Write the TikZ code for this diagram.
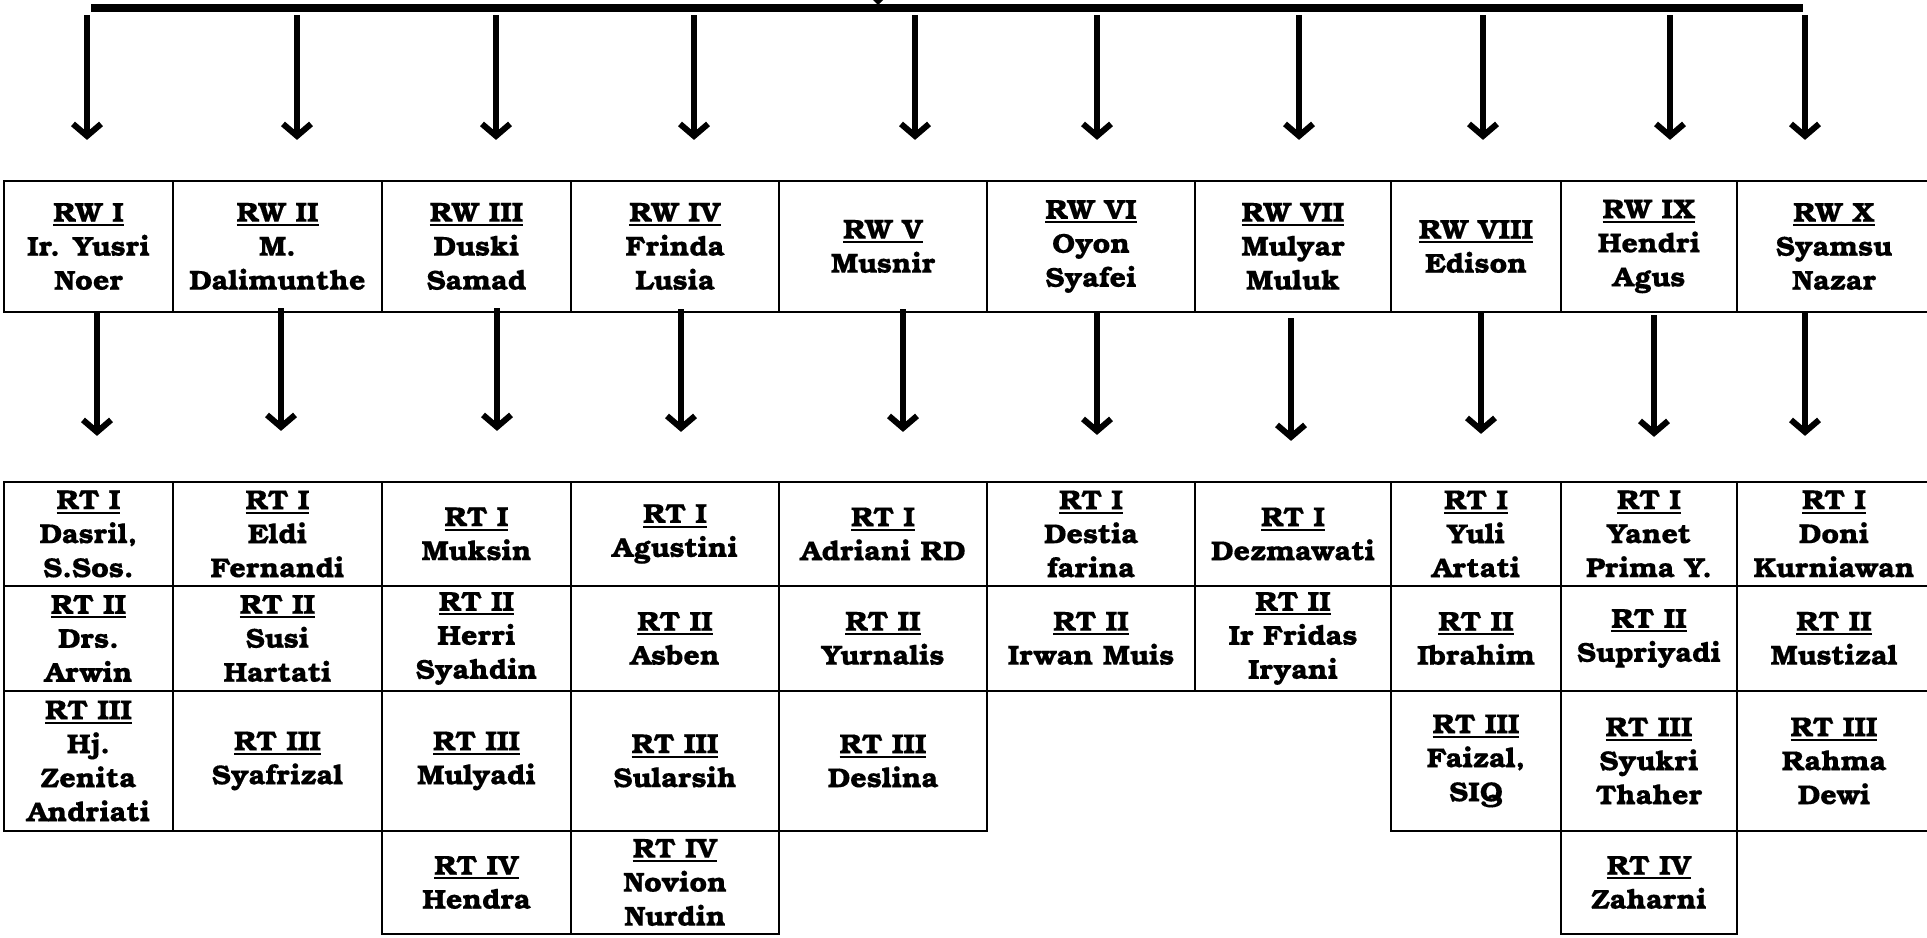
\documentclass[tikz,border=0pt]{standalone}
\usepackage{fontspec}
\setmainfont{TeX Gyre Bonum}[BoldFeatures={FakeStretch=1.05,FakeBold=0.3}]
\usetikzlibrary{arrows.meta}
\newcommand\myul[1]{\setbox0\hbox{#1}\rlap{\rule[-2.3pt]{\wd0}{1pt}}\box0}
\tikzset{
  cellbox/.style={draw, line width=1.1pt, inner sep=0pt, align=center,
    font=\fontsize{13.7pt}{17pt}\selectfont\bfseries},
  arr/.style={line width=3pt, -{Straight Barb[length=6pt,width=14pt]}},
}
\newcommand\cell[6]{\node[cellbox, minimum width={(#3-#2)*0.5pt}, minimum height={(#5-#4)*0.5pt}] (#1) at ({(#2+#3)/2},{(#4+#5)/2}) {#6};}
\begin{document}
\begin{tikzpicture}[x=0.5pt,y=-0.5pt]
\useasboundingbox (0,0) rectangle (1927,937);
% top bar
\coordinate (barL) at (91,8);
\coordinate (barR) at (1803,8);
\draw[line width=4pt] (barL) -- (barR);
\fill (873,0) -- (883,0) -- (878,5) -- cycle;
% RW row
\cell{rw1}{4}{173}{181}{312}{\myul{RW I}\\Ir. Yusri\\Noer}
\cell{rw2}{173}{382}{181}{312}{\myul{RW II}\\M.\\Dalimunthe}
\cell{rw3}{382}{571}{181}{312}{\myul{RW III}\\Duski\\Samad}
\cell{rw4}{571}{779}{181}{312}{\myul{RW IV}\\Frinda\\Lusia}
\cell{rw5}{779}{987}{181}{312}{\myul{RW V}\\Musnir}
\cell{rw6}{987}{1195}{181}{312}{\myul{RW VI}\\Oyon\\Syafei}
\cell{rw7}{1195}{1391}{181}{312}{\myul{RW VII}\\Mulyar\\Muluk}
\cell{rw8}{1391}{1561}{181}{312}{\myul{RW VIII}\\Edison}
\cell{rw9}{1561}{1737}{181}{312}{\myul{RW IX}\\Hendri\\Agus}
\cell{rw10}{1737}{1931}{181}{312}{\myul{RW X}\\Syamsu\\Nazar}
% RT row 1
\cell{rt1-1}{4}{173}{482}{586}{\myul{RT I}\\Dasril,\\S.Sos.}
\cell{rt1-2}{173}{382}{482}{586}{\myul{RT I}\\Eldi\\Fernandi}
\cell{rt1-3}{382}{571}{482}{586}{\myul{RT I}\\Muksin}
\cell{rt1-4}{571}{779}{482}{586}{\myul{RT I}\\Agustini}
\cell{rt1-5}{779}{987}{482}{586}{\myul{RT I}\\Adriani RD}
\cell{rt1-6}{987}{1195}{482}{586}{\myul{RT I}\\Destia\\farina}
\cell{rt1-7}{1195}{1391}{482}{586}{\myul{RT I}\\Dezmawati}
\cell{rt1-8}{1391}{1561}{482}{586}{\myul{RT I}\\Yuli\\Artati}
\cell{rt1-9}{1561}{1737}{482}{586}{\myul{RT I}\\Yanet\\Prima Y.}
\cell{rt1-10}{1737}{1931}{482}{586}{\myul{RT I}\\Doni\\Kurniawan}
% RT row 2
\cell{rt2-1}{4}{173}{586}{691}{\myul{RT II}\\Drs.\\Arwin}
\cell{rt2-2}{173}{382}{586}{691}{\myul{RT II}\\Susi\\Hartati}
\cell{rt2-3}{382}{571}{586}{691}{\myul{RT II}\\Herri\\Syahdin}
\cell{rt2-4}{571}{779}{586}{691}{\myul{RT II}\\Asben}
\cell{rt2-5}{779}{987}{586}{691}{\myul{RT II}\\Yurnalis}
\cell{rt2-6}{987}{1195}{586}{691}{\myul{RT II}\\Irwan Muis}
\cell{rt2-7}{1195}{1391}{586}{691}{\myul{RT II}\\Ir Fridas\\Iryani}
\cell{rt2-8}{1391}{1561}{586}{691}{\myul{RT II}\\Ibrahim}
\cell{rt2-9}{1561}{1737}{586}{691}{\myul{RT II}\\Supriyadi}
\cell{rt2-10}{1737}{1931}{586}{691}{\myul{RT II}\\Mustizal}
% RT row 3
\cell{rt3-1}{4}{173}{691}{831}{\myul{RT III}\\Hj.\\Zenita\\Andriati}
\cell{rt3-2}{173}{382}{691}{831}{\myul{RT III}\\Syafrizal}
\cell{rt3-3}{382}{571}{691}{831}{\myul{RT III}\\Mulyadi}
\cell{rt3-4}{571}{779}{691}{831}{\myul{RT III}\\Sularsih}
\cell{rt3-5}{779}{987}{691}{831}{\myul{RT III}\\Deslina}
\cell{rt3-8}{1391}{1561}{691}{831}{\myul{RT III}\\Faizal,\\SIQ}
\cell{rt3-9}{1561}{1737}{691}{831}{\myul{RT III}\\Syukri\\Thaher}
\cell{rt3-10}{1737}{1931}{691}{831}{\myul{RT III}\\Rahma\\Dewi}
% RT row 4
\cell{rt4-3}{382}{571}{831}{934}{\myul{RT IV}\\Hendra}
\cell{rt4-4}{571}{779}{831}{934}{\myul{RT IV}\\Novion\\Nurdin}
\cell{rt4-9}{1561}{1737}{831}{934}{\myul{RT IV}\\Zaharni}
% arrows bar -> RW
\foreach \i/\x in {1/87,2/297,3/496,4/694,5/915,6/1097,7/1299,8/1483,9/1670,10/1805}{
  \coordinate (ta\i) at (\x,15);
  \draw[arr, shorten >=20pt] (ta\i) -- (ta\i |- rw\i.north);
}
% arrows RW -> RT
\foreach \i/\x/\s/\t in {1/97/313/22.5pt,2/281/308/25pt,3/497/308/25pt,4/681/309/24.5pt,5/903/309/24.5pt,6/1097/312/23pt,7/1291/318/20pt,8/1481/311/23.5pt,9/1654/315/22pt,10/1805/313/22.5pt}{
  \coordinate (ba\i) at (\x,\s);
  \draw[arr, shorten >=\t] (ba\i) -- (ba\i |- rt1-\i.north);
}
\end{tikzpicture}
\end{document}
